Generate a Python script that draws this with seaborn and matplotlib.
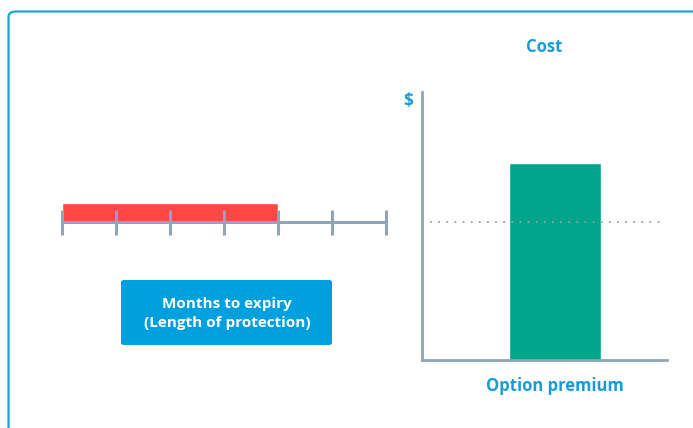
import matplotlib
matplotlib.use("Agg")
import matplotlib.pyplot as plt
import pandas as pd
import seaborn as sns
from matplotlib.patches import FancyBboxPatch

# data
months_total = 6
months_covered = [4]
cost_labels = ["Option premium"]
cost_values = [7.35]
reference_level = 5.15
cost_max = 10

RED = "#ff4843"
AXIS = "#8ea6b6"
BLUE = "#009fdd"
GREEN = "#00a58b"
TEXT_BLUE = "#1b9ad8"

sns.set_theme(style="white")
plt.rcParams["font.family"] = ["Open Sans", "DejaVu Sans"]

W, H = 693, 428
fig = plt.figure(figsize=(W / 100, H / 100), dpi=100)


def px_axes(x0, y0, x1, y1):
    # axes from pixel box (top-left origin)
    return fig.add_axes([x0 / W, 1 - y1 / H, (x1 - x0) / W, (y1 - y0) / H])


# outer rounded frame (runs off right and bottom)
frame = FancyBboxPatch((8.5 / W, -0.2), 1.2, 1 - 11.5 / H + 0.2,
                       boxstyle="round,pad=0,rounding_size=0.012",
                       transform=fig.transFigure, fill=False,
                       edgecolor="#1aa3dc", linewidth=1.6)
fig.patches.append(frame)

# ---- left: months timeline ----
ax1 = px_axes(62, 195, 386, 240)
px = 19 / 0.8  # pixels per y unit (bar height 0.8)
df_t = pd.DataFrame({"months": months_covered, "row": [""]})
sns.barplot(data=df_t, x="months", y="row", orient="h", color=RED,
            saturation=1, width=0.8, ax=ax1)
ax1.set_ylim(-0.4 + 37 / px, -0.4 - 8 / px)
ax1.axhline(0.4, color=AXIS, lw=2.2, zorder=3)
ax1.vlines(range(months_total + 1), -0.4 + 7 / px, -0.4 + 32 / px,
           color=AXIS, lw=2.2, zorder=3)
ax1.set_xlim(0, months_total)
ax1.axis("off")
for a in ax1.get_children():
    if hasattr(a, "set_clip_on"):
        a.set_clip_on(False)

# blue label box
box = FancyBboxPatch((121 / W, 1 - 345 / H), 211 / W, 65 / H,
                     boxstyle="round,pad=0,rounding_size=0.005",
                     transform=fig.transFigure, facecolor=BLUE,
                     edgecolor="none")
fig.patches.append(box)
fig.text(227 / W, 1 - 313.5 / H, "Months to expiry\n(Length of protection)",
         ha="center", va="center", color="white", fontsize=11,
         fontweight="bold", linespacing=1.4)

# ---- right: cost bar ----
ax2 = px_axes(422, 92, 667, 360)
df_c = pd.DataFrame({"label": cost_labels, "cost": cost_values})
sns.barplot(data=df_c, x="label", y="cost", color=GREEN, saturation=1,
            width=0.8, ax=ax2)
ax2.set_ylim(0, cost_max)
ax2.set_xlim(-133 / 115, 112 / 115)
ax2.axhline(reference_level, xmin=0.0, xmax=0.98, color=AXIS, lw=1.3,
            ls=(4.5, (1, 3.5)), zorder=3)
sns.despine(ax=ax2)
for s in ["left", "bottom"]:
    ax2.spines[s].set_color(AXIS)
    ax2.spines[s].set_linewidth(2)
ax2.set_yticks([])
ax2.tick_params(axis="x", length=0, pad=12)
ax2.set_xticks([0])
ax2.set_xticklabels(cost_labels, color=TEXT_BLUE, fontsize=12,
                    fontweight="bold")
ax2.set_xlabel("")
ax2.set_ylabel("")
ax2.set_title("Cost", color=TEXT_BLUE, fontsize=12, fontweight="bold",
              pad=29)
ax2.text(-0.057, 1.0, "$", transform=ax2.transAxes, color=TEXT_BLUE,
         fontsize=12.5, fontweight="bold", ha="center", va="top")

fig.savefig("out.png", dpi=100)
